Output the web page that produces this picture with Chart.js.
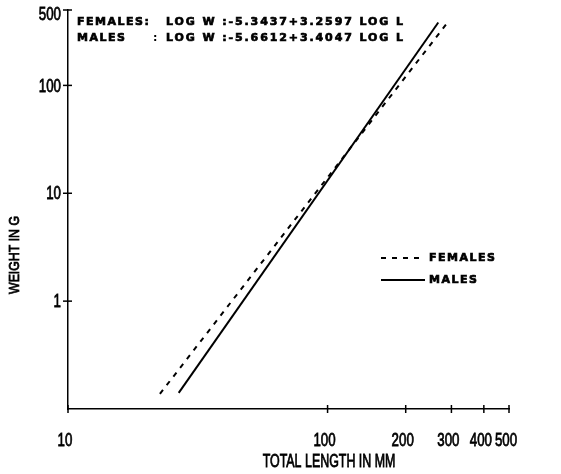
<!DOCTYPE html>
<html>
<head>
<meta charset="utf-8">
<script src="https://cdn.jsdelivr.net/npm/chart.js@4.4.1/dist/chart.umd.min.js"></script>
<style>
    html, body { margin: 0; padding: 0; background: #fff; }
    #canvas { display: block; }
</style>
</head>
<body>
<canvas id="canvas" width="561" height="474"></canvas>
<script>
// values (end points of the two fitted lines)
var femaleLength = [22.6, 292];
var femaleWeight = [0.138, 391];
var maleLength = [26.7, 267];
var maleWeight = [0.141, 383];

var xTicks = [10, 100, 200, 300, 400, 500];
var yTicks = [1, 10, 100, 500];

var femaleEquation = 'LOG W :-5.3437+3.2597 LOG L';
var maleEquation = 'LOG W :-5.6612+3.4047 LOG L';

var labelFont = '"Liberation Sans", Arial, sans-serif';
var boldFont = '"DejaVu Sans", Verdana, sans-serif';

function toPoints(xs, ys) {
    return xs.map((x, i) => ({ x: x, y: ys[i] }));
}

function setTicks(values) {
    return function(scale) {
        scale.ticks = values.map(v => ({ value: v }));
    };
}

// draws text squeezed horizontally, the scanned figure uses a condensed face
function narrowText(ctx, text, x, y, squeeze, align) {
    ctx.save();
    ctx.translate(x, y);
    ctx.scale(squeeze, 1);
    ctx.textAlign = align;
    ctx.lineWidth = 0.8;
    ctx.fillText(text, 0, 0);
    ctx.strokeText(text, 0, 0);
    ctx.restore();
}

function heavyText(ctx, text, x, y) {
    ctx.fillText(text, x, y);
    ctx.strokeText(text, x, y);
}

// crossing tick marks, tick labels, titles, equations and legend
var extrasPlugin = {
    id: 'extras',
    afterDraw(chart) {
        var ctx = chart.ctx;
        var xs = chart.scales.x;
        var ys = chart.scales.y;
        var area = chart.chartArea;

        ctx.save();
        ctx.strokeStyle = '#000';
        ctx.fillStyle = '#000';
        ctx.lineWidth = 1.5;
        xTicks.forEach(v => {
            var px = xs.getPixelForValue(v);
            ctx.beginPath();
            ctx.moveTo(px, area.bottom - 4);
            ctx.lineTo(px, area.bottom + 4);
            ctx.stroke();
        });
        yTicks.forEach(v => {
            var py = ys.getPixelForValue(v);
            ctx.beginPath();
            ctx.moveTo(area.left - 5, py);
            ctx.lineTo(area.left + 4, py);
            ctx.stroke();
        });

        // tick labels
        ctx.font = '19px ' + labelFont;
        ctx.textBaseline = 'middle';
        xTicks.forEach(v => {
            narrowText(ctx, String(v), xs.getPixelForValue(v) - 3, 441, 0.7, 'center');
        });
        yTicks.forEach(v => {
            var py = ys.getPixelForValue(v) + 1;
            if (v === 500) {
                py += 4;
            }
            narrowText(ctx, String(v), area.left - 7, py, 0.7, 'right');
        });

        // axis titles
        ctx.font = '18px ' + labelFont;
        narrowText(ctx, 'TOTAL LENGTH IN MM', 329, 462, 0.69, 'center');
        ctx.save();
        ctx.translate(15, 255);
        ctx.rotate(-Math.PI / 2);
        ctx.font = '15px ' + labelFont;
        narrowText(ctx, 'WEIGHT IN G', 0, 0, 0.82, 'center');
        ctx.restore();

        // equations
        ctx.font = 'bold 11px ' + boldFont;
        ctx.lineWidth = 0.7;
        ctx.textBaseline = 'alphabetic';
        ctx.letterSpacing = '1.5px';
        heavyText(ctx, 'FEMALES:', 77, 25);
        heavyText(ctx, 'MALES', 77, 41);
        ctx.fillText(':', 153, 41);
        ctx.letterSpacing = '1.9px';
        heavyText(ctx, femaleEquation, 166, 25);
        heavyText(ctx, maleEquation, 166, 41);

        // legend
        ctx.lineWidth = 2;
        ctx.setLineDash([5, 6]);
        ctx.beginPath();
        ctx.moveTo(381, 258);
        ctx.lineTo(425, 258);
        ctx.stroke();
        ctx.setLineDash([]);
        ctx.beginPath();
        ctx.moveTo(381, 280);
        ctx.lineTo(425, 280);
        ctx.stroke();
        ctx.lineWidth = 0.7;
        ctx.textBaseline = 'middle';
        ctx.letterSpacing = '1.5px';
        heavyText(ctx, 'FEMALES', 429, 258);
        heavyText(ctx, 'MALES', 429, 280);
        ctx.restore();
    }
};

function renderChart() {
    var ctx = document.getElementById('canvas').getContext('2d');
    new Chart(ctx, {
        type: 'scatter',
        data: {
            datasets: [{
                label: 'FEMALES',
                data: toPoints(femaleLength, femaleWeight),
                showLine: true,
                borderColor: '#000',
                borderWidth: 2,
                borderDash: [5, 6],
                pointRadius: 0,
            }, {
                label: 'MALES',
                data: toPoints(maleLength, maleWeight),
                showLine: true,
                borderColor: '#000',
                borderWidth: 2,
                pointRadius: 0,
            }]
        },
        options: {
            responsive: false,
            animation: false,
            devicePixelRatio: 1,
            layout: {
                padding: { left: 0, right: 52, top: 10, bottom: 0 }
            },
            plugins: {
                legend: { display: false },
                tooltip: { enabled: false },
            },
            scales: {
                x: {
                    type: 'logarithmic',
                    min: 10,
                    max: 500,
                    afterBuildTicks: setTicks(xTicks),
                    afterFit: function(scale) { scale.height = 65; },
                    grid: { drawOnChartArea: false, drawTicks: false },
                    border: { color: '#000', width: 1.5 },
                    ticks: { display: false },
                },
                y: {
                    type: 'logarithmic',
                    min: 0.1,
                    max: 500,
                    afterBuildTicks: setTicks(yTicks),
                    afterFit: function(scale) { scale.width = 68; },
                    grid: { drawOnChartArea: false, drawTicks: false },
                    border: { color: '#000', width: 1.5 },
                    ticks: { display: false },
                }
            }
        },
        plugins: [extrasPlugin]
    });
}

renderChart();
</script>
</body>
</html>
